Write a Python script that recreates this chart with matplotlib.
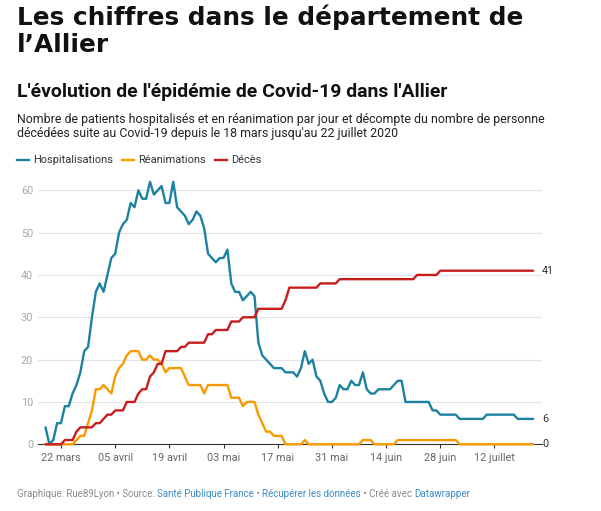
import matplotlib
matplotlib.use('Agg')
import matplotlib.pyplot as plt
from matplotlib.lines import Line2D
import pandas as pd

plt.rcParams['font.family'] = ['Roboto', 'DejaVu Sans']

# ---------------- data ----------------
start_date = '2020-03-18'
hospitalisations = [4, 0, 1, 5, 5, 9, 9, 12, 14, 17, 22, 23, 30, 36, 38, 36, 40, 44, 45, 50,
                    52, 53, 57, 56, 60, 58, 58, 62, 59, 60, 61, 57, 57, 62, 56, 55, 54, 52, 53, 55,
                    54, 51, 45, 44, 43, 44, 44, 46, 38, 36, 36, 34, 35, 36, 35, 24, 21, 20, 19, 18,
                    18, 18, 17, 17, 17, 16, 18, 22, 19, 20, 16, 15, 12, 10, 10, 11, 14, 13, 13, 15,
                    14, 14, 17, 13, 12, 12, 13, 13, 13, 13, 14, 15, 15,
                    10, 10, 10, 10, 10, 10, 10, 8, 8, 7, 7, 7, 7, 7,
                    6, 6, 6, 6, 6, 6, 6, 7, 7, 7, 7, 7, 7, 7, 7, 6, 6, 6, 6, 6]
reanimations = [0, 0, 0, 0, 0, 0, 0, 0, 1, 2, 2, 5, 8, 13, 13, 14, 13, 12, 16, 18,
                19, 21, 22, 22, 22, 20, 20, 21, 20, 20, 19, 17, 18, 18, 18, 18, 16, 14, 14, 14,
                14, 12, 14, 14, 14, 14, 14, 14, 11, 11, 11, 9, 10, 10, 10, 7, 5, 3, 3, 2,
                2, 2, 0, 0, 0, 0, 0, 1, 0, 0, 0, 0, 0, 0, 0, 0, 0, 0, 0, 0,
                0, 0, 1, 1, 1, 0, 0, 0, 0, 0, 0,
                1, 1, 1, 1, 1, 1, 1, 1, 1, 1, 1, 1, 1, 1, 1, 1,
                0, 0, 0, 0, 0, 0, 0, 0, 0, 0, 0, 0, 0, 0, 0, 0, 0, 0, 0, 0]
deces = [0, 0, 0, 0, 0, 1, 1, 1, 3, 4, 4, 4, 4, 5, 5, 6, 7, 7, 8, 8,
         8, 10, 10, 10, 12, 13, 13, 16, 17, 19, 19, 22, 22, 22, 22, 23, 23, 24, 24, 24,
         24, 24, 26, 26, 27, 27, 27, 27, 29, 29, 29, 30, 30, 30, 30, 32, 32, 32, 32, 32,
         32, 32, 34, 37, 37, 37, 37, 37, 37, 37, 37, 38, 38, 38, 38, 38,
         39, 39, 39, 39, 39, 39, 39, 39, 39, 39, 39, 39, 39, 39, 39, 39, 39, 39, 39, 39,
         40, 40, 40, 40, 40, 40,
         41, 41, 41, 41, 41, 41, 41, 41, 41, 41, 41, 41, 41, 41, 41, 41, 41, 41, 41, 41,
         41, 41, 41, 41, 41]
series_names = ['Hospitalisations', 'Réanimations', 'Décès']
series_colors = ['#1d81a2', '#fa9a00', '#c71e1d']
tick_dates = ['2020-03-22', '2020-04-05', '2020-04-19', '2020-05-03', '2020-05-17',
              '2020-05-31', '2020-06-14', '2020-06-28', '2020-07-12']
tick_labels = ['22 mars', '05 avril', '19 avril', '03 mai', '17 mai', '31 mai',
               '14 juin', '28 juin', '12 juillet']
y_ticks = [0, 10, 20, 30, 40, 50, 60]

title_lines = ["Les chiffres dans le département de", "l’Allier"]
subtitle = "L'évolution de l'épidémie de Covid-19 dans l'Allier"
desc_lines = ["Nombre de patients hospitalisés et en réanimation par jour et décompte du nombre de personne",
              "décédées suite au Covid-19 depuis le 18 mars jusqu'au 22 juillet 2020"]
footer_parts = [("Graphique: Rue89Lyon • Source: ", '#8a8a8a'), ("Santé Publique France", '#3a8ec4'),
                (" • ", '#8a8a8a'), ("Récupérer les données", '#3a8ec4'),
                (" • Créé avec ", '#8a8a8a'), ("Datawrapper", '#3a8ec4')]

dates = pd.date_range(start_date, periods=len(hospitalisations), freq='D')
series = [hospitalisations, reanimations, deces]

# ---------------- figure ----------------
W, H = 601, 511
fig = plt.figure(figsize=(W / 100, H / 100), dpi=100)
fig.patch.set_facecolor('white')
renderer = fig.canvas.get_renderer()


def fx(x):
    return x / W


def fy(y):
    return 1 - y / H


def text_width(s, **kw):
    t = fig.text(0, 0, s + 'x', **kw)
    t2 = fig.text(0, 0, 'x', **kw)
    w = t.get_window_extent(renderer).width - t2.get_window_extent(renderer).width
    t.remove()
    t2.remove()
    return w


def fitted_size(s, width, size, **kw):
    w = text_width(s, fontsize=size, **kw)
    return size * width / w


# title
tsize = fitted_size(title_lines[0], 506, 20, family='DejaVu Sans', weight='bold')
fig.text(fx(17), fy(25), title_lines[0], fontsize=tsize, family='DejaVu Sans', weight='bold',
         color='#111111', va='baseline', ha='left')
fig.text(fx(17), fy(52), title_lines[1], fontsize=tsize, family='DejaVu Sans', weight='bold',
         color='#111111', va='baseline', ha='left')

# subtitle
ssize = fitted_size(subtitle, 431, 15, weight='bold')
fig.text(fx(17), fy(97), subtitle, fontsize=ssize, weight='bold', color='#111111',
         va='baseline', ha='left')

# description
dsize = fitted_size(desc_lines[0], 533, 9)
fig.text(fx(17), fy(122.7), desc_lines[0], fontsize=dsize, color='#222222', va='baseline', ha='left')
fig.text(fx(17), fy(137.3), desc_lines[1], fontsize=dsize, color='#222222', va='baseline', ha='left')

# legend
lx = 17
ly = 160
for name, col in zip(series_names, series_colors):
    fig.add_artist(Line2D([fx(lx), fx(lx + 12)], [fy(ly), fy(ly)], color=col, lw=1.7,
                          transform=fig.transFigure))
    fig.text(fx(lx + 16), fy(ly), name, fontsize=7.9, color='#333333', va='center', ha='left')
    lx += 16 + text_width(name, fontsize=7.9) + 9

# footer
fsize = fitted_size(''.join(p for p, _ in footer_parts), 455, 7)
fxp = 17
for part, col in footer_parts:
    fig.text(fx(fxp), fy(497), part, fontsize=fsize, color=col, va='baseline', ha='left')
    fxp += text_width(part, fontsize=fsize)

# ---------------- axes ----------------
top_px, bot_px, left_px, right_px = 181.8, 444.3, 38, 541.7
ax = fig.add_axes([fx(left_px), fy(bot_px), (right_px - left_px) / W, (bot_px - top_px) / H])
ax.set_facecolor('none')

for vals, col in zip(series, series_colors):
    ax.plot(dates, vals, color=col, lw=1.7, solid_joinstyle='round', solid_capstyle='round',
            clip_on=False, zorder=3)

day = pd.Timedelta(days=1)
ax.set_xlim(dates[0] - 1.94 * day, dates[0] + 128.2 * day)
ax.set_ylim(0, 62)

ax.set_yticks(y_ticks)
ax.yaxis.grid(True, color='#e3e3e3', lw=0.8)
ax.set_axisbelow(True)
ax.tick_params(axis='y', length=0, pad=3.6, labelsize=7.8, labelcolor='#a8a8a8')

ax.set_xticks(pd.to_datetime(tick_dates))
ax.set_xticklabels(tick_labels)
ax.tick_params(axis='x', length=3.2, width=0.8, color='#333333', pad=3, labelsize=7.8,
               labelcolor='#666666')

for sp in ['top', 'right', 'left']:
    ax.spines[sp].set_visible(False)
ax.spines['bottom'].set_color('#333333')
ax.spines['bottom'].set_linewidth(0.8)
ax.spines['bottom'].set_zorder(2)

for vals in series:
    ax.annotate(str(vals[-1]), xy=(dates[-1], vals[-1]), xytext=(6.3, 0),
                textcoords='offset points', va='center', ha='left', fontsize=7.8,
                color='#333333', annotation_clip=False)

fig.savefig('out.png', dpi=100, facecolor='white')
